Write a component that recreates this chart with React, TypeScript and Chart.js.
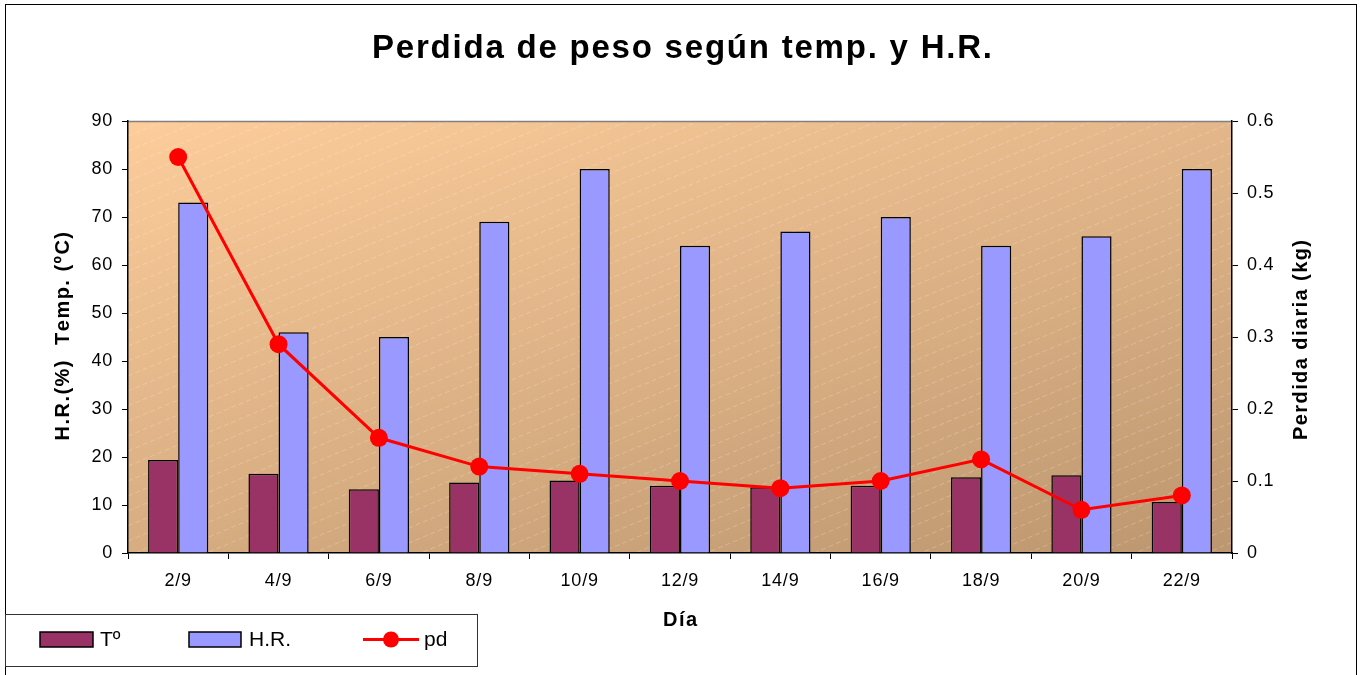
import React, { useEffect, useRef } from 'react';
import { Chart, registerables } from 'chart.js';

Chart.register(...registerables);

const categories = ['2/9', '4/9', '6/9', '8/9', '10/9', '12/9', '14/9', '16/9', '18/9', '20/9', '22/9'];
const tempValues = [19.4, 16.5, 13.3, 14.7, 15.1, 14.0, 13.7, 14.0, 15.8, 16.2, 10.6];
const hrValues = [73, 46, 45, 69, 80, 64, 67, 70, 64, 66, 80];
const pdValues = [0.55, 0.29, 0.16, 0.12, 0.11, 0.10, 0.09, 0.10, 0.13, 0.06, 0.08];

const leftAxis = { min: 0, max: 90, step: 10 };
const rightAxis = { min: 0, max: 0.6, step: 0.1 };

const titleText = 'Perdida de peso según temp. y H.R.';
const leftTitle = 'H.R.(%)  Temp. (ºC)';
const rightTitle = 'Perdida diaria (kg)';
const xTitle = 'Día';
const legendLabels = ['Tº', 'H.R.', 'pd'];

const FONT = '"Liberation Sans", Arial, sans-serif';
const T_COLOR = '#993366';
const HR_COLOR = '#9999FF';
const PD_COLOR = '#FF0000';

function drawSpaced(ctx: CanvasRenderingContext2D, text: string, cx: number, cy: number, target: number) {
  ctx.letterSpacing = '0px';
  const w = ctx.measureText(text).width;
  const n = text.length;
  const sp = n > 1 ? Math.max(0, (target - w) / (n - 1)) : 0;
  let x = cx - (w + sp * (n - 1)) / 2;
  ctx.textAlign = 'left';
  for (const ch of text) {
    ctx.fillText(ch, x, cy);
    x += ctx.measureText(ch).width + sp;
  }
}

const decorPlugin = {
  id: 'decor',
  beforeDraw(chart: any) {
    const ctx: CanvasRenderingContext2D = chart.ctx;
    const { left, top, right, bottom } = chart.chartArea;
    const W = right - left;
    const H = bottom - top;
    ctx.save();
    ctx.fillStyle = '#ffffff';
    ctx.fillRect(0, 0, chart.width, chart.height);
    const a = 0.4, b = 0.6;
    const k = (a + b) / (a * a / (W * W) + b * b / (H * H));
    const dx = k * a / W, dy = k * b / H;
    const g = ctx.createLinearGradient(left, top, left + dx, top + dy);
    g.addColorStop(0, '#FDCD9B');
    g.addColorStop(1, '#BC966F');
    ctx.fillStyle = g;
    ctx.fillRect(left, top, W, H);
    ctx.beginPath();
    ctx.rect(left, top, W, H);
    ctx.clip();
    ctx.strokeStyle = 'rgba(255,255,255,0.22)';
    ctx.lineWidth = 1;
    ctx.setLineDash([5, 3]);
    const slope = 0.42;
    for (let y0 = top; y0 < bottom + slope * W + 20; y0 += 15) {
      ctx.beginPath();
      ctx.moveTo(left, y0);
      ctx.lineTo(right, y0 - slope * W);
      ctx.stroke();
    }
    ctx.restore();
    ctx.save();
    ctx.strokeStyle = '#808080';
    ctx.lineWidth = 1.5;
    ctx.beginPath();
    ctx.moveTo(left, top + 0.5);
    ctx.lineTo(right, top + 0.5);
    ctx.stroke();
    ctx.restore();
    ctx.letterSpacing = '0.8px';
  },
  afterDraw(chart: any) {
    const ctx: CanvasRenderingContext2D = chart.ctx;
    ctx.letterSpacing = '0px';
    const { left, top, right, bottom } = chart.chartArea;
    const midY = (top + bottom) / 2;
    const midX = (left + right) / 2;
    ctx.save();
    ctx.strokeStyle = '#000';
    ctx.lineWidth = 1;
    ctx.strokeRect(5.5, 4.5, 1351, 720);
    ctx.fillStyle = '#000';
    ctx.textBaseline = 'alphabetic';
    ctx.font = `bold 33px ${FONT}`;
    drawSpaced(ctx, titleText, 682, 58, 620);
    ctx.font = `bold 20px ${FONT}`;
    ctx.textBaseline = 'middle';
    drawSpaced(ctx, xTitle, midX, 620, 34);
    ctx.save();
    ctx.translate(63, midY);
    ctx.rotate(-Math.PI / 2);
    drawSpaced(ctx, leftTitle, 0, 0, 207);
    ctx.restore();
    ctx.save();
    ctx.translate(1301, midY + 3);
    ctx.rotate(-Math.PI / 2);
    drawSpaced(ctx, rightTitle, 0, 0, 200);
    ctx.restore();
    ctx.strokeStyle = '#333';
    ctx.lineWidth = 1;
    ctx.strokeRect(5.5, 614.5, 472, 52);
    ctx.lineWidth = 1.5;
    ctx.strokeStyle = '#000';
    ctx.fillStyle = T_COLOR;
    ctx.fillRect(40, 632, 53, 15);
    ctx.strokeRect(40, 632, 53, 15);
    ctx.fillStyle = HR_COLOR;
    ctx.fillRect(189, 632, 52, 15);
    ctx.strokeRect(189, 632, 52, 15);
    ctx.strokeStyle = PD_COLOR;
    ctx.lineWidth = 3;
    ctx.beginPath();
    ctx.moveTo(363, 639.5);
    ctx.lineTo(419, 639.5);
    ctx.stroke();
    ctx.fillStyle = PD_COLOR;
    ctx.beginPath();
    ctx.arc(391, 639.5, 8, 0, Math.PI * 2);
    ctx.fill();
    ctx.fillStyle = '#000';
    ctx.font = `21px ${FONT}`;
    ctx.textBaseline = 'alphabetic';
    ctx.textAlign = 'left';
    ctx.fillText(legendLabels[0], 100, 646);
    ctx.fillText(legendLabels[1], 249, 646);
    ctx.fillText(legendLabels[2], 424, 646);
    ctx.restore();
  },
};

export default function App() {
  const ref = useRef<HTMLCanvasElement | null>(null);
  useEffect(() => {
    if (!ref.current) return;
    const tickFont = { family: FONT, size: 18 };
    const chart = new Chart(ref.current, {
      type: 'bar',
      data: {
        labels: categories,
        datasets: [
          {
            type: 'line',
            label: legendLabels[2],
            data: pdValues,
            yAxisID: 'y1',
            borderColor: PD_COLOR,
            backgroundColor: PD_COLOR,
            borderWidth: 3,
            pointRadius: 9,
            pointBackgroundColor: PD_COLOR,
            pointBorderWidth: 0,
            tension: 0,
            order: 0,
          } as any,
          {
            type: 'bar',
            label: legendLabels[0],
            data: tempValues,
            yAxisID: 'y',
            backgroundColor: T_COLOR,
            borderColor: '#000',
            borderWidth: 1.5,
            categoryPercentage: 0.6,
            barPercentage: 1,
            order: 1,
          },
          {
            type: 'bar',
            label: legendLabels[1],
            data: hrValues,
            yAxisID: 'y',
            backgroundColor: HR_COLOR,
            borderColor: '#000',
            borderWidth: 1.5,
            categoryPercentage: 0.6,
            barPercentage: 1,
            order: 2,
          },
        ],
      },
      options: {
        responsive: false,
        animation: false,
        devicePixelRatio: 1,
        layout: { padding: { top: 121, left: 0, right: 0, bottom: 0 } },
        plugins: { legend: { display: false }, title: { display: false }, tooltip: { enabled: false } },
        scales: {
          x: {
            type: 'category',
            offset: true,
            grid: { offset: true, drawOnChartArea: false, drawTicks: true, tickLength: 6, color: '#000' },
            border: { color: '#000', width: 1.5 },
            ticks: { font: tickFont, color: '#000', padding: 11, maxRotation: 0, autoSkip: false },
            afterFit: (s: any) => { s.height = 122; },
          },
          y: {
            position: 'left',
            min: leftAxis.min,
            max: leftAxis.max,
            grid: { drawOnChartArea: false, drawTicks: true, tickLength: 6, color: '#000' },
            border: { color: '#000', width: 1.5 },
            ticks: { stepSize: leftAxis.step, font: tickFont, color: '#000', padding: 9 },
            afterFit: (s: any) => { s.width = 128; },
          },
          y1: {
            position: 'right',
            min: rightAxis.min,
            max: rightAxis.max,
            grid: { drawOnChartArea: false, drawTicks: true, tickLength: 6, color: '#000' },
            border: { color: '#000', width: 1.5 },
            ticks: {
              stepSize: rightAxis.step,
              font: tickFont,
              color: '#000',
              padding: 9,
              callback: (v: any) => String(Number(Number(v).toFixed(1))),
            },
            afterFit: (s: any) => { s.width = 132; },
          },
        },
      },
      plugins: [decorPlugin],
    });
    return () => chart.destroy();
  }, []);
  return (
    <div style={{ position: 'fixed', left: 0, top: 0, width: 1364, height: 675, background: '#fff' }}>
      <canvas ref={ref} width={1364} height={675} style={{ display: 'block' }} />
    </div>
  );
}
